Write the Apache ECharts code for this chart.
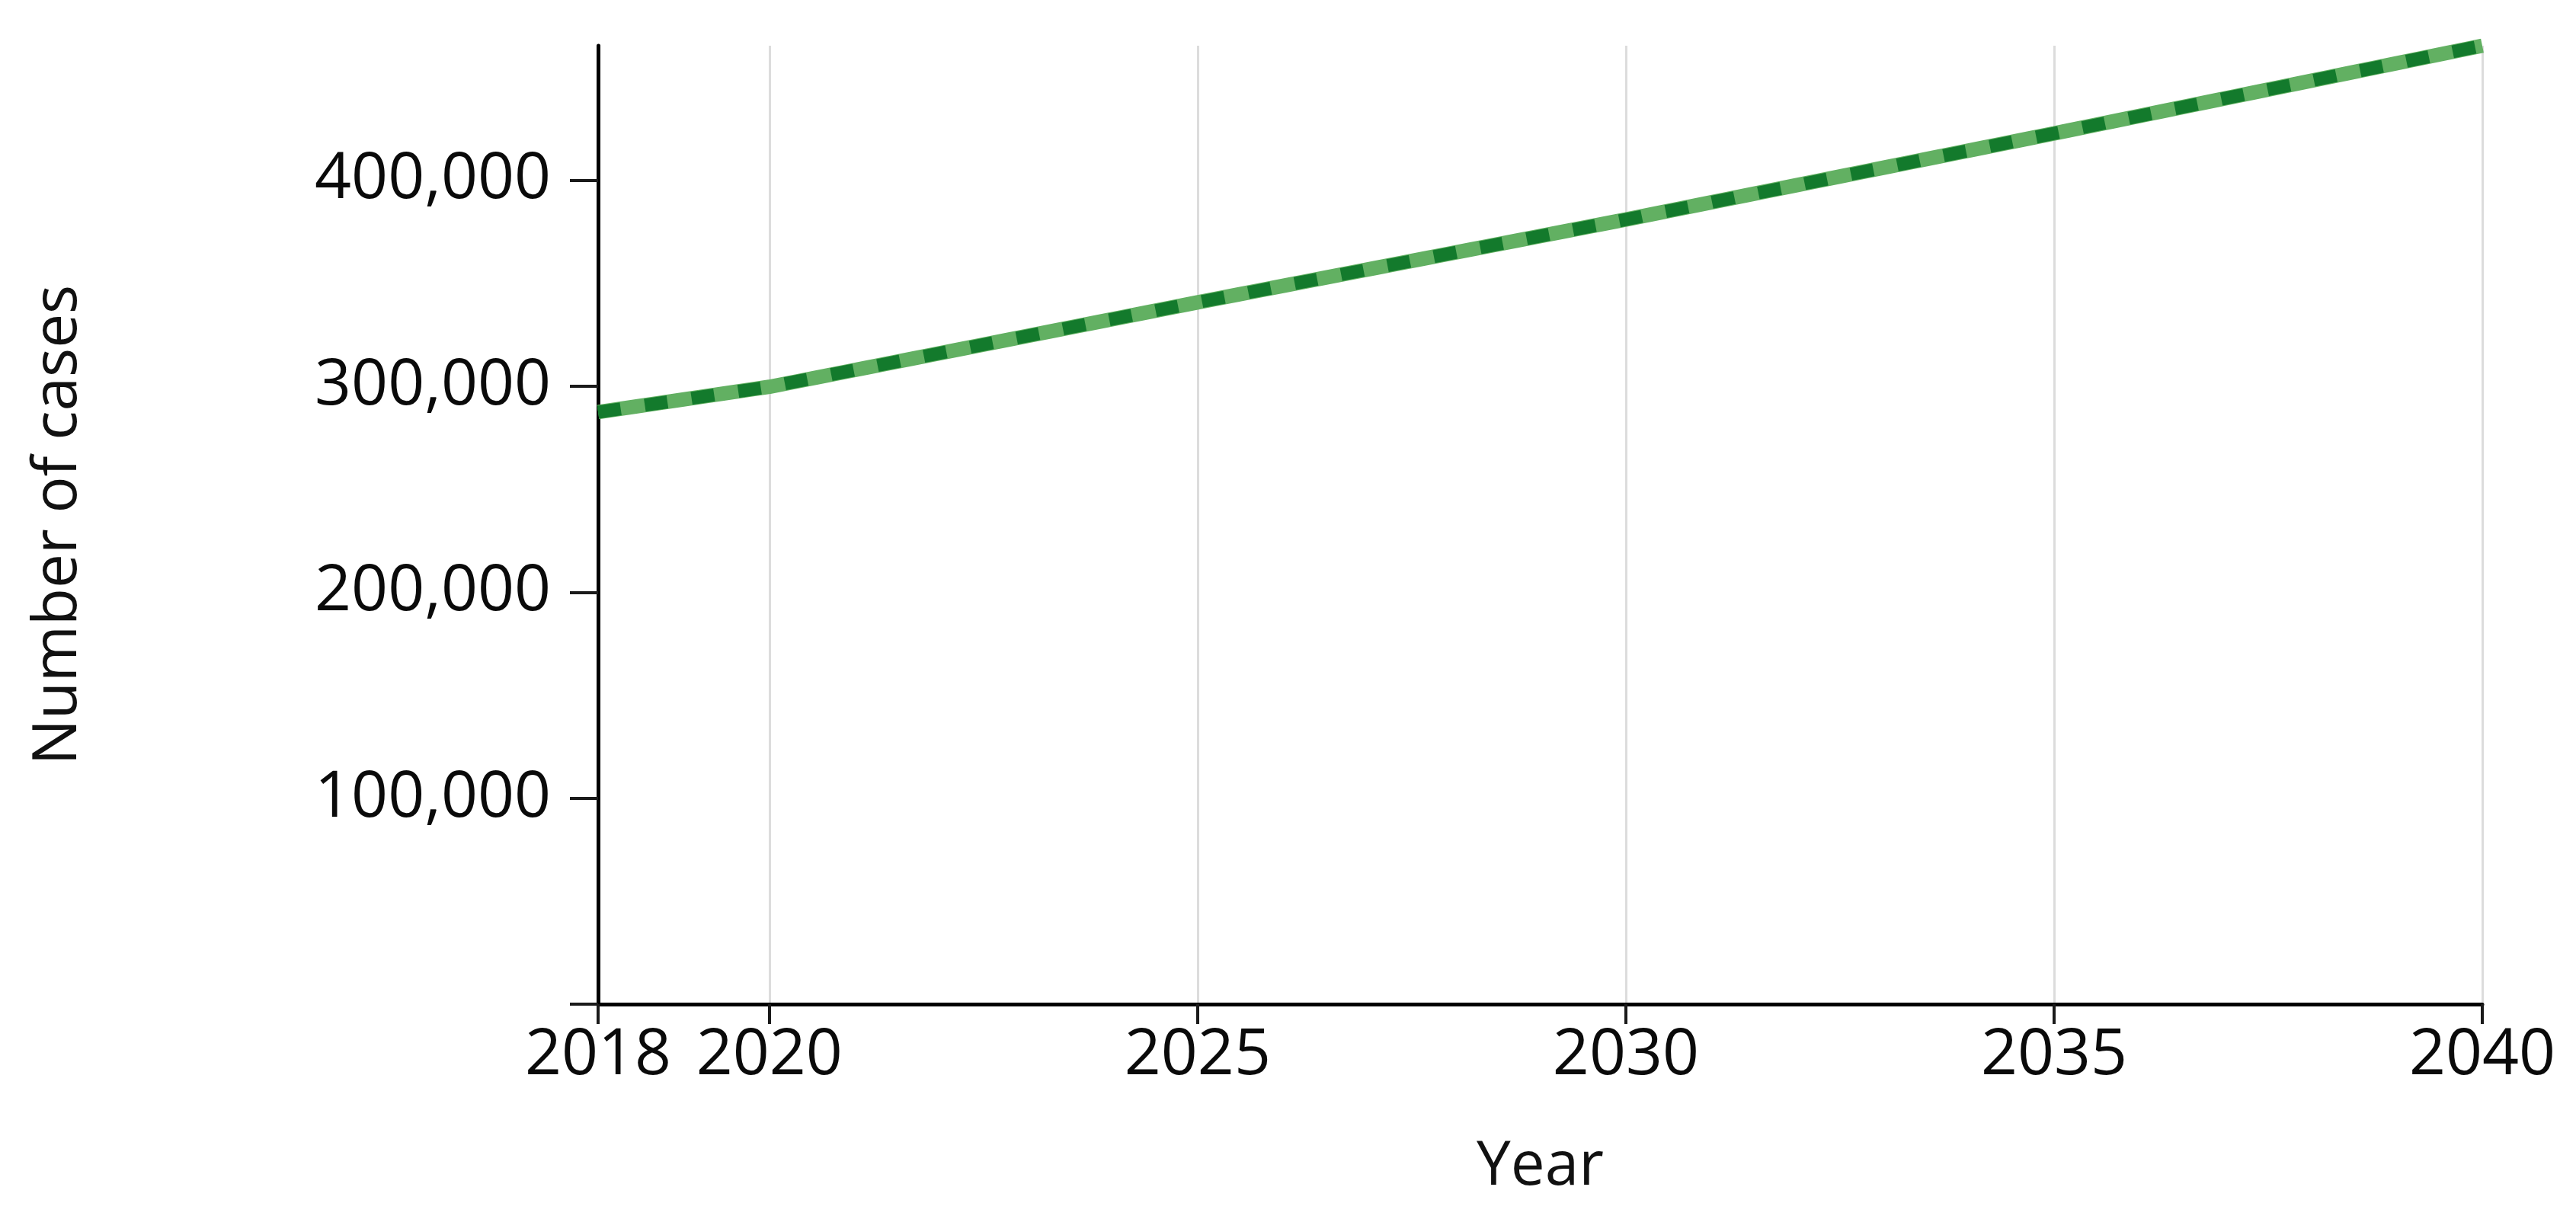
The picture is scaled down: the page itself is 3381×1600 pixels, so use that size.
<!DOCTYPE html>
<html>
<head>
<meta charset="utf-8">
<script src="https://cdn.jsdelivr.net/npm/echarts@6/dist/echarts.min.js"></script>
<style>
html,body{margin:0;padding:0;background:#fff;}
#chart{width:3381px;height:1600px;}
</style>
</head>
<body>
<div id="chart"></div>
<script>
// Data
const years = [2018, 2020, 2025, 2030, 2035, 2040];
const cases = [287400, 299700, 340700, 380900, 422700, 465300];
const xTickValues = [2018, 2020, 2025, 2030, 2035, 2040];
const yTickValues = [0, 100000, 200000, 300000, 400000];
const yLabelValues = [100000, 200000, 300000, 400000];
const xAxisTitle = 'Year';
const yAxisTitle = 'Number of cases';

const points = years.map((y, i) => [y, cases[i]]);
const FONT = '"Open Sans", "Noto Sans", sans-serif';

const chart = echarts.init(document.getElementById('chart'), null, {renderer: 'canvas'});
chart.setOption({
  backgroundColor: '#ffffff',
  animation: false,
  grid: {left: 785, right: 123, top: 60, bottom: 282, containLabel: false},
  xAxis: {
    type: 'value',
    min: 2018,
    max: 2040,
    name: xAxisTitle,
    nameLocation: 'middle',
    nameGap: 174,
    nameTextStyle: {fontFamily: FONT, fontSize: 80, color: '#111'},
    axisLine: {show: true, onZero: false, lineStyle: {color: '#000', width: 5}},
    axisTick: {show: true, length: 26, customValues: xTickValues, lineStyle: {color: '#1a1a1a', width: 4}},
    axisLabel: {
      customValues: xTickValues,
      margin: 26,
      fontFamily: FONT, fontSize: 84, color: '#0a0a0a',
      formatter: v => String(v)
    },
    splitLine: {show: true, lineStyle: {color: '#dcdcdc', width: 3}}
  },
  yAxis: {
    type: 'value',
    min: 0,
    max: 'dataMax',
    name: yAxisTitle,
    nameLocation: 'middle',
    nameGap: 668,
    nameRotate: 90,
    nameTextStyle: {fontFamily: FONT, fontSize: 80, color: '#111'},
    axisLine: {show: true, lineStyle: {color: '#000', width: 5}},
    axisTick: {show: true, length: 37, customValues: yTickValues, lineStyle: {color: '#1a1a1a', width: 4}},
    axisLabel: {
      customValues: yLabelValues,
      margin: 62,
      fontFamily: FONT, fontSize: 84, color: '#0a0a0a',
      formatter: v => Number(v).toLocaleString('en-US')
    },
    splitLine: {show: false}
  },
  series: [
    {
      type: 'line',
      data: points,
      symbol: 'none',
      lineStyle: {color: '#62b062', width: 19, cap: 'butt'},
      z: 3
    },
    {
      type: 'line',
      data: points,
      symbol: 'none',
      lineStyle: {color: '#137a2c', width: 17, type: [30, 32], cap: 'butt'},
      z: 4
    }
  ]
});
</script>
</body>
</html>
